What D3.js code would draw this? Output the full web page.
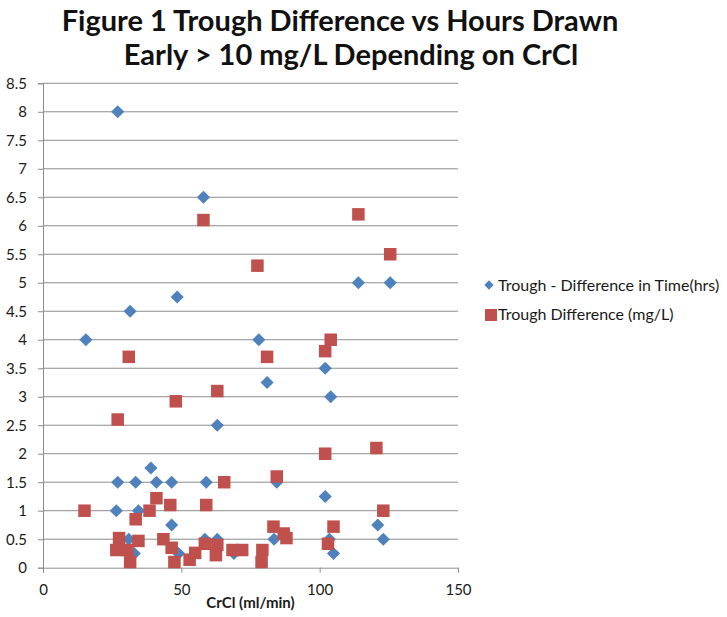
<!DOCTYPE html>
<html>
<head>
<meta charset="utf-8">
<script src="https://cdn.jsdelivr.net/npm/d3@7"></script>
<style>
  body { margin: 0; background: #fff; }
  svg { display: block; font-family: Lato, "Open Sans", sans-serif; }
</style>
</head>
<body>
<svg id="chart"></svg>
<script>
// CrCl (ml/min) vs trough - difference in time (hrs)
const timeCrCl = [27, 58, 15.5, 31.5, 48.5, 63, 114, 125.5, 78, 81, 102, 104,
    27, 33.5, 39, 41, 46.5, 59, 26.5, 34.5, 46.5, 31, 33, 49, 58.5, 63, 69,
    84.5, 102, 121, 123, 83.5, 103.5, 105];
const timeHrs = [8, 6.5, 4, 4.5, 4.75, 2.5, 5, 5, 4, 3.25, 3.5, 3,
    1.5, 1.5, 1.75, 1.5, 1.5, 1.5, 1, 1, 0.75, 0.5, 0.25, 0.25, 0.5, 0.5, 0.25,
    1.5, 1.25, 0.75, 0.5, 0.5, 0.5, 0.25];

// CrCl (ml/min) vs trough difference (mg/L)
const levelCrCl = [58, 114, 125.5, 77.5, 31, 27, 48, 63, 81, 104, 102, 102, 120.5,
    15, 65.5, 59, 41, 46, 38.5, 33.5, 27.5, 34.5, 43.5, 46.5, 26.5, 30.5, 31.5,
    47.5, 53, 55, 58.5, 63, 62.5, 68.5, 72, 79.3, 79, 84.5, 83.3, 87, 88, 123, 105, 103];
const levelMg = [6.1, 6.2, 5.5, 5.3, 3.7, 2.6, 2.92, 3.1, 3.7, 4.0, 3.8, 2.0, 2.1,
    1.0, 1.5, 1.1, 1.22, 1.1, 1.0, 0.85, 0.52, 0.47, 0.5, 0.35, 0.31, 0.31, 0.1,
    0.1, 0.14, 0.26, 0.42, 0.4, 0.22, 0.31, 0.31, 0.31, 0.1, 1.6, 0.72, 0.6, 0.52, 1.0, 0.72, 0.42];

const xTicks = [0, 50, 100, 150];
const yTicks = d3.range(0, 8.51, 0.5);
const seriesNames = ["Trough - Difference in Time(hrs)", "Trough Difference (mg/L)"];
const blue = "#4f81bd", red = "#c0504d";

const width = 727, height = 617;
const svg = d3.select("#chart").attr("width", width).attr("height", height);

const plotL = 43, plotR = 458, plotT = 83.3, plotB = 567.7;
const x = d3.scaleLinear().domain([0, 150]).range([plotL, plotR]);
const y = d3.scaleLinear().domain([0, 8.5]).range([plotB, plotT]);

// 网格线
svg.append("g")
    .selectAll("line")
    .data(yTicks.slice(1))
    .enter().append("line")
    .attr("x1", plotL).attr("x2", plotR)
    .attr("y1", d => y(d)).attr("y2", d => y(d))
    .attr("stroke", "#8c8c8c").attr("stroke-width", 1);

// 坐标轴
const yAxis = svg.append("g")
    .attr("transform", `translate(${plotL},0)`)
    .call(d3.axisLeft(y).tickValues(yTicks).tickSize(5).tickPadding(11)
        .tickFormat(d => String(+d.toFixed(1))));
const xAxis = svg.append("g")
    .attr("transform", `translate(0,${plotB})`)
    .call(d3.axisBottom(x).tickValues(xTicks).tickSize(5).tickPadding(12));

[xAxis, yAxis].forEach(ax => {
    ax.select(".domain").attr("stroke", "#8c8c8c");
    ax.selectAll(".tick line").attr("stroke", "#8c8c8c");
    ax.selectAll("text").attr("font-size", 15).attr("fill", "#1a1a1a")
        .attr("font-family", "Lato, sans-serif");
});

// 数据点
const timePts = timeCrCl.map((c, i) => [c, timeHrs[i]]);
const levelPts = levelCrCl.map((c, i) => [c, levelMg[i]]);
const diamond = d3.symbol().type(d3.symbolDiamond2).size(110);

svg.append("g").selectAll("path")
    .data(timePts)
    .enter().append("path")
    .attr("d", diamond)
    .attr("transform", d => `translate(${x(d[0])},${y(d[1])})`)
    .attr("fill", blue);

const sq = 12.5;
svg.append("g").selectAll("rect")
    .data(levelPts)
    .enter().append("rect")
    .attr("x", d => x(d[0]) - sq / 2)
    .attr("y", d => y(d[1]) - sq / 2)
    .attr("width", sq).attr("height", sq)
    .attr("fill", red);

// 标题
svg.append("text")
    .attr("x", 340).attr("y", 31)
    .attr("text-anchor", "middle")
    .attr("font-size", 29).attr("font-weight", "bold").attr("fill", "#111")
    .text("Figure 1 Trough Difference vs Hours Drawn");
svg.append("text")
    .attr("x", 351).attr("y", 65)
    .attr("text-anchor", "middle")
    .attr("font-size", 29).attr("font-weight", "bold").attr("fill", "#111")
    .text("Early > 10 mg/L Depending on CrCl");

svg.append("text")
    .attr("x", (plotL + plotR) / 2).attr("y", 608)
    .attr("text-anchor", "middle")
    .attr("font-size", 15).attr("font-weight", "bold").attr("fill", "#1a1a1a")
    .text("CrCl (ml/min)");

// 图例
const legend = svg.append("g");
legend.append("path")
    .attr("d", d3.symbol().type(d3.symbolDiamond2).size(55))
    .attr("transform", "translate(489,285)")
    .attr("fill", blue);
legend.append("rect")
    .attr("x", 485).attr("y", 309).attr("width", 12).attr("height", 12)
    .attr("fill", red);
legend.selectAll("text.leg")
    .data(seriesNames)
    .enter().append("text")
    .attr("class", "leg")
    .attr("x", 498)
    .attr("y", (d, i) => 290.5 + i * 29.5)
    .attr("font-size", 16).attr("fill", "#1a1a1a")
    .text(d => d);
</script>
</body>
</html>
